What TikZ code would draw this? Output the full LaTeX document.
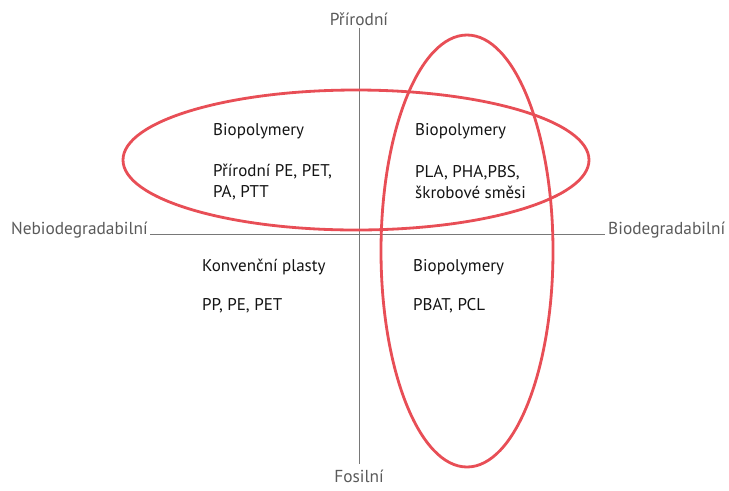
\documentclass[tikz,border=0pt]{standalone}
\usepackage{fontspec}
\setmainfont{PT Sans}
\definecolor{ringred}{RGB}{232,78,86}
\definecolor{axisgray}{RGB}{120,120,120}
\definecolor{labelgray}{RGB}{90,90,90}
\definecolor{textdark}{RGB}{20,20,20}
\begin{document}
\begin{tikzpicture}[
  x=0.03cm, y=-0.03cm,
  axis/.style={draw=axisgray, line width=0.8pt},
  axislabel/.style={text=labelgray, font=\fontsize{14.8}{17}\selectfont, inner sep=0pt},
  ring/.style={draw=ringred, line width=2.4pt},
  entry/.style={anchor=west, align=left, text=textdark, inner sep=0pt,
    font=\fontsize{14.5}{18}\selectfont}
]
\useasboundingbox (0,0) rectangle (729,490);

% axes
\coordinate (top) at (359,28);
\coordinate (bottom) at (359,464);
\coordinate (left) at (150,234);
\coordinate (right) at (605,234);
\draw[axis] (top) -- (bottom);
\draw[axis] (left) -- (right);

\node[axislabel, anchor=south] (natural) at (359,26) {Přírodní};
\node[axislabel, anchor=north] (fossil) at (359,470) {Fosilní};
\node[axislabel, anchor=east] (nonbio) at (148,230) {Nebiodegradabilní};
\node[axislabel, anchor=west] (bio) at (608,230) {Biodegradabilní};

% ellipses
\draw[ring] (356,160) ellipse [x radius=233, y radius=70];
\draw[ring] (467,251) ellipse [x radius=86, y radius=216];

% quadrants
\node[entry] (nwhead) at (213,131) {Biopolymery};
\node[entry] (nwbody) at (213,182) {Přírodní PE, PET,\\PA, PTT};
\node[entry] (nehead) at (415,131) {Biopolymery};
\node[entry] (nebody) at (415,182) {PLA, PHA,PBS,\\škrobové směsi};
\node[entry] (swhead) at (202,267) {Konvenční plasty};
\node[entry] (swbody) at (202,306) {PP, PE, PET};
\node[entry] (sehead) at (413,267) {Biopolymery};
\node[entry] (sebody) at (413,306) {PBAT, PCL};
\end{tikzpicture}
\end{document}
